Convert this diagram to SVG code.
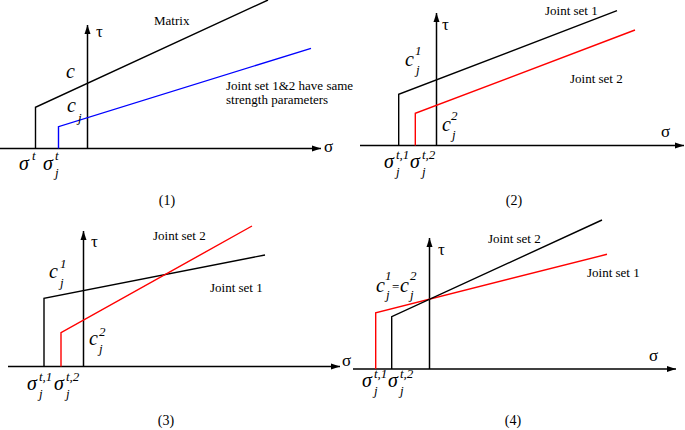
<svg xmlns="http://www.w3.org/2000/svg" width="685" height="430" viewBox="0 0 685 430">
<style>
text{font-family:"Liberation Serif","Times New Roman",serif;fill:#000}
.t{font-size:13px}
.ax{font-size:17px}
.it{font-style:italic;font-size:20px}
.sm{font-style:italic;font-size:13px}
.cap{font-size:14px;text-anchor:middle}
.axis{stroke:#000;stroke-width:1.5;fill:none}
.k{stroke:#000;stroke-width:1.4;fill:none}
.r{stroke:#f00;stroke-width:1.4;fill:none}
.b{stroke:#00f;stroke-width:1.4;fill:none}
</style>
<defs>
<marker id="ah" markerWidth="10" markerHeight="8" refX="9" refY="4" orient="auto" markerUnits="userSpaceOnUse">
<path d="M0,1 L9,4 L0,7 Z" fill="#000"/>
</marker>
</defs>
<rect width="685" height="430" fill="#fff"/>

<g id="connectors">
<!-- panel 1 axes -->
<line class="axis" x1="0" y1="148.5" x2="321" y2="148.5" marker-end="url(#ah)"/>
<line class="axis" x1="87.5" y1="148.5" x2="87.5" y2="25" marker-end="url(#ah)"/>
<!-- panel 2 axes -->
<line class="axis" x1="360" y1="145.5" x2="684" y2="145.5" marker-end="url(#ah)"/>
<line class="axis" x1="436.5" y1="145.5" x2="436.5" y2="13" marker-end="url(#ah)"/>
<!-- panel 3 axes -->
<line class="axis" x1="8" y1="366.5" x2="340" y2="366.5" marker-end="url(#ah)"/>
<line class="axis" x1="83.5" y1="366.5" x2="83.5" y2="231" marker-end="url(#ah)"/>
<!-- panel 4 axes -->
<line class="axis" x1="353" y1="369" x2="676" y2="369" marker-end="url(#ah)"/>
<line class="axis" x1="429.5" y1="369" x2="429.5" y2="238" marker-end="url(#ah)"/>
</g>

<g id="panel1">
<polyline class="k" points="35.5,148.5 35.5,107.3 268,0"/>
<polyline class="b" points="58.5,148.5 58.5,126.7 311,48.3"/>
<text class="t" x="154" y="25">Matrix</text>
<text class="t" x="226" y="90">Joint set 1&amp;2 have same</text>
<text class="t" x="226" y="104">strength parameters</text>
<text class="ax" x="96" y="37">τ</text>
<text class="ax" x="324" y="152">σ</text>
<text class="it" x="66" y="78">c</text>
<text class="it" x="67" y="112">c</text><text class="sm" x="78" y="122">j</text>
<text class="it" x="19" y="170">σ</text><text class="sm" x="32" y="160">t</text>
<text class="it" x="43" y="170">σ</text><text class="sm" x="55" y="160">t</text><text class="sm" x="55" y="177">j</text>
<text class="cap" x="167" y="205">(1)</text>
</g>

<g id="panel2">
<polyline class="k" points="398.7,145.5 398.7,94.3 617,10.7"/>
<polyline class="r" points="415.3,145.5 415.3,113.3 635,30"/>
<text class="t" x="545" y="15">Joint set 1</text>
<text class="t" x="570" y="83">Joint set 2</text>
<text class="ax" x="442" y="30">τ</text>
<text class="ax" x="661" y="137">σ</text>
<text class="it" x="405" y="66">c</text><text class="sm" x="415" y="55">1</text><text class="sm" x="416" y="74">j</text>
<text class="it" x="442" y="131">c</text><text class="sm" x="451" y="120">2</text><text class="sm" x="452" y="139">j</text>
<text class="it" x="384" y="168">σ</text><text class="sm" x="396" y="159">t,1</text><text class="sm" x="396" y="176">j</text>
<text class="it" x="410" y="168">σ</text><text class="sm" x="422" y="159">t,2</text><text class="sm" x="422" y="176">j</text>
<text class="cap" x="514" y="205">(2)</text>
</g>

<g id="panel3">
<polyline class="k" points="44,366.5 44,298.3 265,255"/>
<polyline class="r" points="61,366.5 61,332.7 252,226"/>
<text class="t" x="153" y="240">Joint set 2</text>
<text class="t" x="210" y="292">Joint set 1</text>
<text class="ax" x="91" y="247">τ</text>
<text class="ax" x="342" y="366">σ</text>
<text class="it" x="49" y="278">c</text><text class="sm" x="60" y="268">1</text><text class="sm" x="60" y="287">j</text>
<text class="it" x="89" y="345">c</text><text class="sm" x="99" y="336">2</text><text class="sm" x="99" y="353">j</text>
<text class="it" x="27" y="390">σ</text><text class="sm" x="39" y="381">t,1</text><text class="sm" x="39" y="398">j</text>
<text class="it" x="54" y="390">σ</text><text class="sm" x="66" y="381">t,2</text><text class="sm" x="66" y="398">j</text>
<text class="cap" x="166" y="425">(3)</text>
</g>

<g id="panel4">
<polyline class="r" points="375.7,369 375.7,312.7 607,254.3"/>
<polyline class="k" points="391.7,369 391.7,316.7 602,220"/>
<text class="t" x="488" y="243">Joint set 2</text>
<text class="t" x="587" y="277">Joint set 1</text>
<text class="ax" x="438" y="255">τ</text>
<text class="ax" x="649" y="361">σ</text>
<text class="it" x="376" y="292">c</text><text class="sm" x="385" y="280">1</text><text class="sm" x="386" y="299">j</text>
<text x="392" y="291" style="font-size:13px">=</text>
<text class="it" x="400" y="292">c</text><text class="sm" x="410" y="280">2</text><text class="sm" x="410" y="299">j</text>
<text class="it" x="362" y="387">σ</text><text class="sm" x="374" y="378">t,1</text><text class="sm" x="374" y="395">j</text>
<text class="it" x="388" y="387">σ</text><text class="sm" x="400" y="378">t,2</text><text class="sm" x="400" y="395">j</text>
<text class="cap" x="513" y="425">(4)</text>
</g>
</svg>
